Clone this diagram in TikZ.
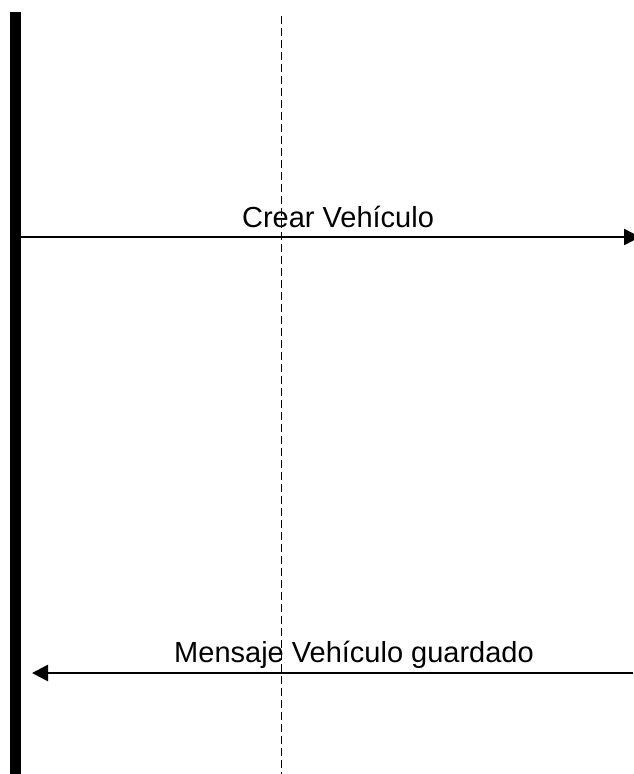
\documentclass[tikz,border=0pt]{standalone}
\usepackage{fontspec}
\setmainfont{Liberation Sans}
\usetikzlibrary{arrows.meta}

\begin{document}
\begin{tikzpicture}[
    x=1pt, y=-1pt,
    actor bar/.style={fill=black, draw=none, inner sep=0pt, minimum width=11.5pt, minimum height=762pt},
    lifeline/.style={draw=black, line width=1.6pt, dash pattern=on 8pt off 4pt},
    message/.style={draw=black, line width=2.6pt, -{Triangle[length=16pt,width=16pt]}},
    msg label/.style={font=\fontsize{29}{34}\selectfont, anchor=base, inner sep=0pt},
]
\useasboundingbox (0,0) rectangle (633,774);

% Actor bar
\node[actor bar, anchor=north west] (bar) at (9.5,12) {};

% Lifeline
\coordinate (life-top) at (281.5,16);
\coordinate (life-bot) at (281.5,774);
\draw[lifeline] (life-top) -- (life-bot);

% Request message
\coordinate (req-start) at (bar.east |- 0,237);
\coordinate (req-end) at (640,237);
\draw[message] (req-start) -- (req-end);
\node[msg label] (req-label) at (338,227) {Crear Vehículo};

% Response message
\coordinate (resp-start) at (633,673);
\coordinate (resp-end) at (32,673);
\draw[message] (resp-start) -- (resp-end);
\node[msg label] (resp-label) at (354,662) {Mensaje Vehículo guardado};

\end{tikzpicture}
\end{document}
